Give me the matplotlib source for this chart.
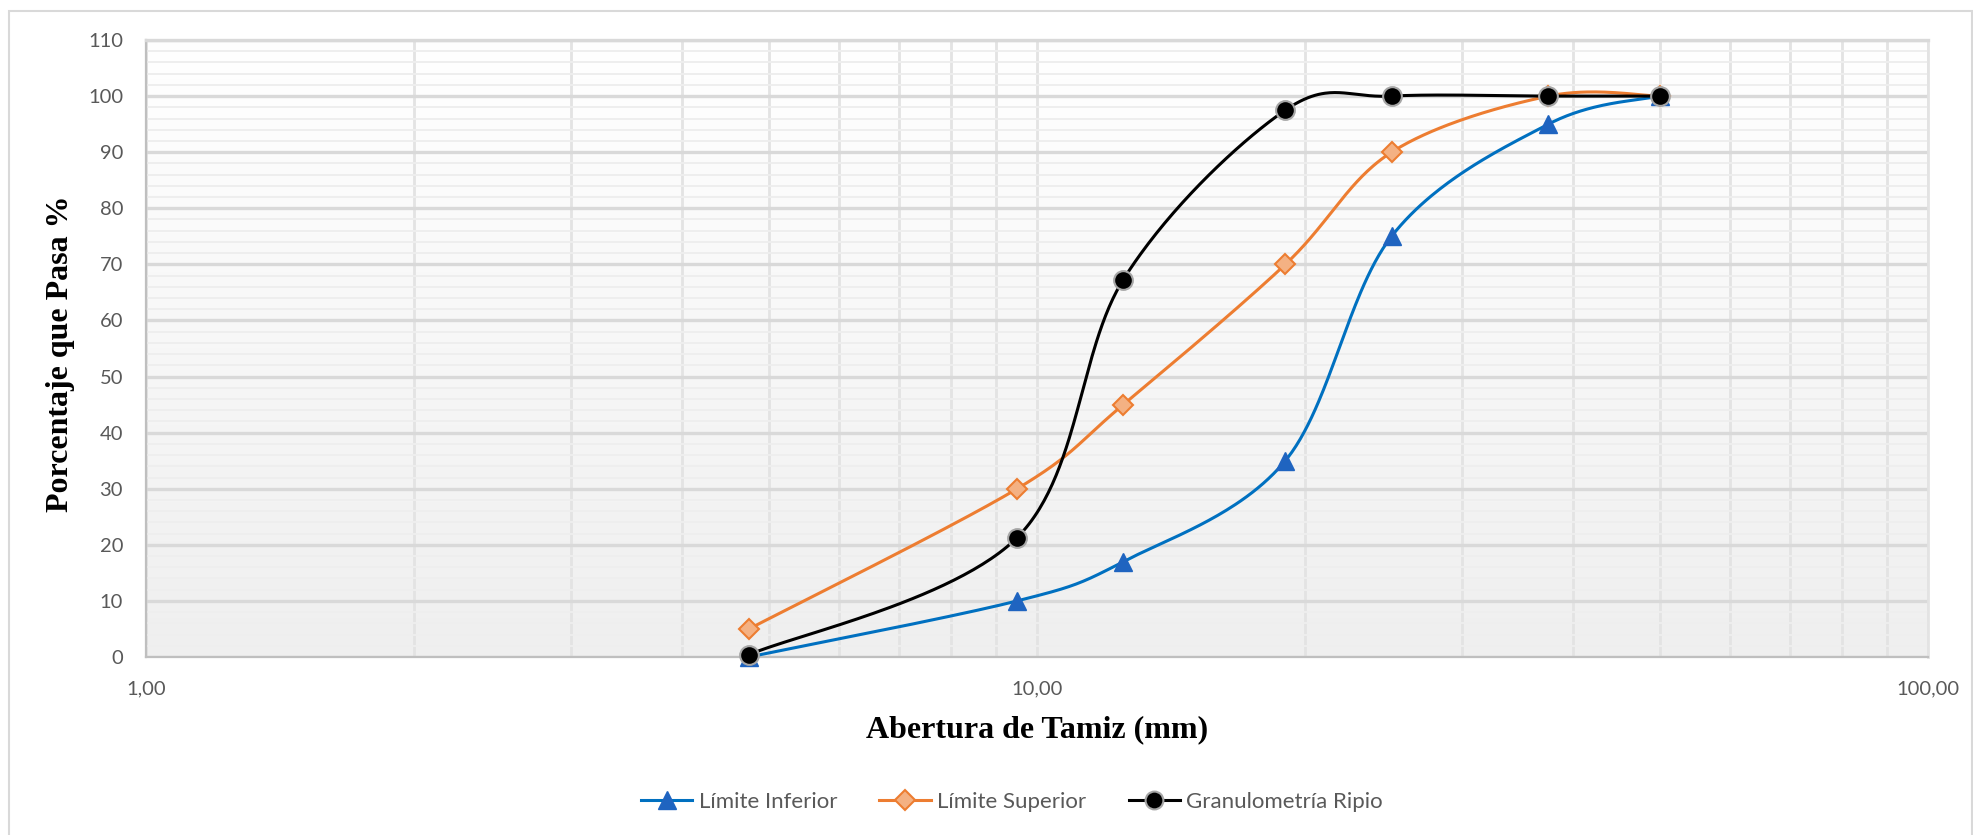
import numpy as np
import matplotlib
matplotlib.use("Agg")
import matplotlib.pyplot as plt
from matplotlib.colors import LinearSegmentedColormap
from matplotlib.lines import Line2D
from matplotlib.patches import Rectangle
from matplotlib.ticker import FixedLocator, MultipleLocator, NullFormatter, FuncFormatter

# Sieve openings (mm) and percent passing
abertura = [4.75, 9.5, 12.5, 19.0, 25.0, 37.5, 50.0]
limite_inferior = [0, 10, 17, 35, 75, 95, 100]
limite_superior = [5, 30, 45, 70, 90, 100, 100]
granulometria = [0.4, 21.3, 67.3, 97.5, 100, 100, 100]

serie_nombres = ["Límite Inferior", "Límite Superior", "Granulometría Ripio"]
y_ticks = list(range(0, 111, 10))
x_ticks = [1, 10, 100]

W, H = 1974, 835
fig = plt.figure(figsize=(W / 100, H / 100), dpi=100)
fig.patch.set_facecolor("white")

# chart frame
fig.patches.append(Rectangle((9 / W, -0.01), (W - 11) / W, 1.01 - 11 / H, transform=fig.transFigure,
                             fill=False, edgecolor="#d9d9d9", linewidth=1.5))

L, R, T, B = 146, 1928, 40, 657
pos = [L / W, 1 - B / H, (R - L) / W, (B - T) / H]

# plot-area gradient
bg = fig.add_axes(pos, zorder=0)
cmap = LinearSegmentedColormap.from_list("bg", ["#ffffff", "#efefef"])
bg.imshow(np.linspace(0, 1, 256).reshape(-1, 1), aspect="auto", cmap=cmap,
          extent=[0, 1, 0, 1])
bg.set_axis_off()

ax = fig.add_axes(pos, zorder=1)
ax.patch.set_alpha(0)
ax.set_xscale("log")
ax.set_xlim(1, 100)
ax.set_ylim(0, 110)

tick_font = ["Lato", "DejaVu Sans"]
ax.xaxis.set_major_locator(FixedLocator(x_ticks))
ax.xaxis.set_minor_locator(FixedLocator([m * d for d in (1, 10) for m in range(2, 10)]))
ax.xaxis.set_minor_formatter(NullFormatter())
ax.xaxis.set_major_formatter(FuncFormatter(lambda v, p: f"{v:.2f}".replace(".", ",")))
ax.yaxis.set_major_locator(FixedLocator(y_ticks))
ax.yaxis.set_minor_locator(MultipleLocator(2))
ax.tick_params(which="both", length=0)
ax.tick_params(axis="x", which="major", pad=17)
ax.tick_params(axis="y", which="major", pad=16.5)
for lab in ax.get_xticklabels() + ax.get_yticklabels():
    lab.set_fontfamily(tick_font)
    lab.set_fontsize(14.5)
    lab.set_color("#595959")

ax.set_axisbelow(True)
ax.grid(which="minor", axis="y", color="#eeeeee", linewidth=1.4)
ax.grid(which="major", axis="y", color="#d9d9d9", linewidth=2.4)
ax.grid(which="both", axis="x", color="#e3e3e3", linewidth=2.0)

for s in ("left", "bottom"):
    ax.spines[s].set_color("#bfbfbf")
    ax.spines[s].set_linewidth(1.6)
ax.spines["top"].set_color("#d9d9d9")
ax.spines["top"].set_linewidth(2.4)
ax.spines["right"].set_color("#e3e3e3")
ax.spines["right"].set_linewidth(2.0)


def smooth_curve(xs, ys, n=60):
    """Cubic Bezier smoothing (Catmull-Rom style) computed in display space."""
    pts = ax.transData.transform(np.column_stack([xs, ys]))
    out = [pts[0]]
    m = len(pts)
    for i in range(m - 1):
        p0 = pts[i - 1] if i > 0 else pts[i]
        p1 = pts[i]
        p2 = pts[i + 1]
        p3 = pts[i + 2] if i + 2 < m else pts[i + 1]
        d12 = np.hypot(*(p2 - p1))
        d02 = np.hypot(*(p2 - p0))
        d13 = np.hypot(*(p3 - p1))
        f1 = 1 / 6 if d02 / 6 < d12 / 2 else d12 / (2 * d02)
        f2 = 1 / 6 if d13 / 6 < d12 / 2 else d12 / (2 * d13)
        c1 = p1 + f1 * (p2 - p0)
        c2 = p2 - f2 * (p3 - p1)
        t = np.linspace(0, 1, n)[1:, None]
        seg = ((1 - t) ** 3) * p1 + 3 * ((1 - t) ** 2) * t * c1 + 3 * (1 - t) * t ** 2 * c2 + t ** 3 * p2
        out.extend(seg)
    out = np.array(out)
    data = ax.transData.inverted().transform(out)
    return data[:, 0], data[:, 1]


series = [
    (limite_inferior, dict(color="#0070c0", marker="^", ms=13.5, mfc="#1f64c0", mec="#1f64c0", mew=1.0)),
    (limite_superior, dict(color="#ed7d31", marker="D", ms=10.5, mfc="#f4b183", mec="#ed7d31", mew=1.5)),
    (granulometria, dict(color="#000000", marker="o", ms=13.5, mfc="#000000", mec="#a6a6a6", mew=1.5)),
]

handles = []
for k, (vals, st) in enumerate(series):
    sx, sy = smooth_curve(abertura, vals)
    ax.plot(sx, sy, color=st["color"], lw=2.2, zorder=3 + 2 * k, clip_on=False,
            solid_capstyle="round")
    ax.plot(abertura, vals, linestyle="none", marker=st["marker"], ms=st["ms"],
            mfc=st["mfc"], mec=st["mec"], mew=st["mew"], zorder=4 + 2 * k, clip_on=False)
    handles.append(Line2D([], [], color=st["color"], lw=2.2, marker=st["marker"],
                          ms=st["ms"] * 0.95, mfc=st["mfc"], mec=st["mec"], mew=st["mew"]))

fig.text(61 / W, 1 - 354 / H, "Porcentaje que Pasa %", rotation=90, ha="center", va="center",
         fontfamily="Liberation Serif", fontweight="bold", fontsize=23, color="black")
fig.text(1037 / W, 1 - 730 / H, "Abertura de Tamiz (mm)", ha="center", va="center",
         fontfamily="Liberation Serif", fontweight="bold", fontsize=23, color="black")

leg = fig.legend(handles, serie_nombres, loc="center", bbox_to_anchor=(1012 / W, 1 - 802 / H),
                 ncol=3, frameon=False, handlelength=2.3, handletextpad=0.3, columnspacing=1.9,
                 prop={"family": tick_font, "size": 16})
for t in leg.get_texts():
    t.set_color("#595959")

fig.savefig("out.png", dpi=100)
